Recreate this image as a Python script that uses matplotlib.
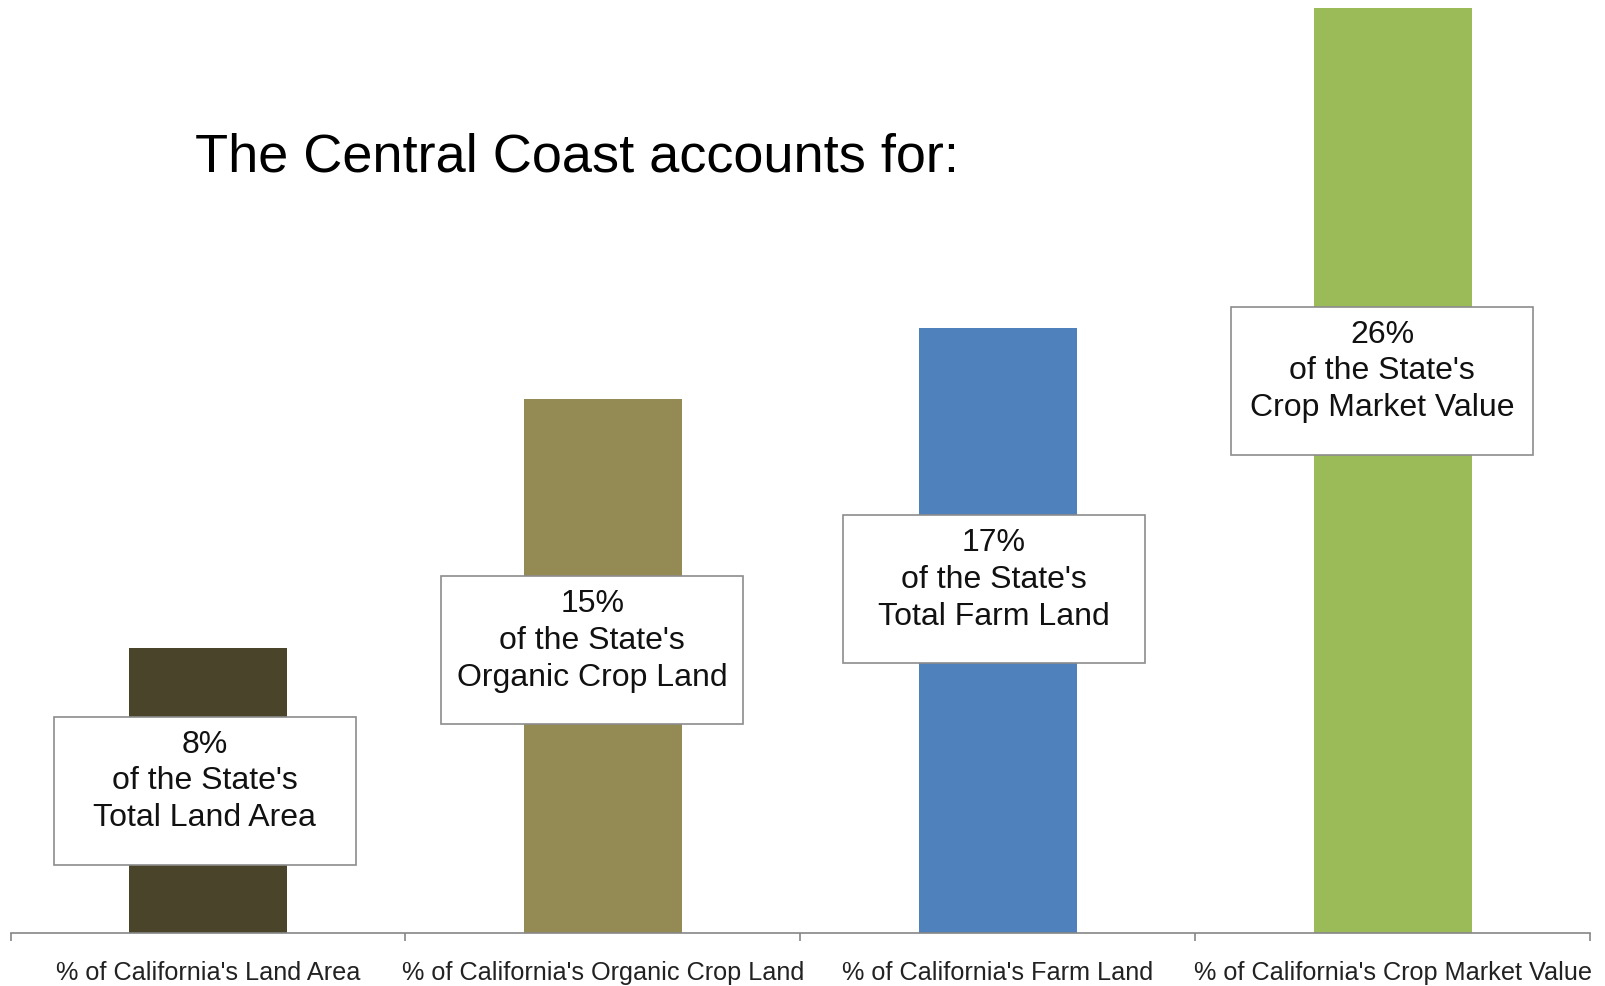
import matplotlib
matplotlib.use("Agg")
import matplotlib.pyplot as plt
from matplotlib.patches import Rectangle

categories = [
    "% of California's Land Area",
    "% of California's Organic Crop Land",
    "% of California's Farm Land",
    "% of California's Crop Market Value",
]
values = [8, 15, 17, 26]
label_lines = [
    ["of the State's", "Total Land Area"],
    ["of the State's", "Organic Crop Land"],
    ["of the State's", "Total Farm Land"],
    ["of the State's", "Crop Market Value"],
]
title_text = "The Central Coast accounts for:"

bar_colors = ["#4A452A", "#948A54", "#4F81BD", "#9BBB59"]
# callout box centres: x offset from the bar centre (category units), y in data units
box_dx = [-0.008, -0.027, -0.010, -0.026]
box_centres = [4.0, 7.95, 9.67, 15.52]

plt.rcParams["font.family"] = ["Liberation Sans", "DejaVu Sans"]

W, H, DPI = 1606, 986, 100
fig = plt.figure(figsize=(W / DPI, H / DPI), dpi=DPI)
ax_left, ax_right = 10.5 / W, 1590 / W
ax_bottom, ax_top = (H - 933) / H, 1.0
ax = fig.add_axes([ax_left, ax_bottom, ax_right - ax_left, ax_top - ax_bottom])

x = list(range(len(categories)))
ax.bar(x, values, width=0.40, color=bar_colors, zorder=2)

ax.set_xlim(-0.5, len(categories) - 0.5)
ax.set_ylim(0, 26.22)

for s in ("left", "right", "top"):
    ax.spines[s].set_visible(False)
ax.spines["bottom"].set_color("#868686")
ax.spines["bottom"].set_linewidth(1.2)
ax.set_yticks([])
ax.set_xticks(x)
ax.set_xticklabels(categories, fontsize=18.2, color="#222222")
ax.tick_params(axis="x", which="major", length=0, pad=20)
ax.set_xticks([i - 0.5 for i in range(len(categories) + 1)], minor=True)
ax.tick_params(axis="x", which="minor", length=6, color="#868686", width=1.2)

box_w, box_h = 0.765, 4.15
for i, (v, lines, dx, yc) in enumerate(zip(values, label_lines, box_dx, box_centres)):
    xc = i + dx
    ax.add_patch(Rectangle((xc - box_w / 2, yc - box_h / 2), box_w, box_h,
                           facecolor="white", edgecolor="#8C8C8C", lw=1.2, zorder=3))
    txt = "\n".join([f"{v}%"] + lines)
    ax.text(xc, yc + 0.26, txt, ha="center", va="center", fontsize=23,
            linespacing=1.3, color="#111111", zorder=4)

fig.text(195 / W, 1 - 157 / H, title_text, fontsize=39, ha="left", va="center",
         color="#000000")

fig.savefig("out.png", dpi=DPI, facecolor="white")
